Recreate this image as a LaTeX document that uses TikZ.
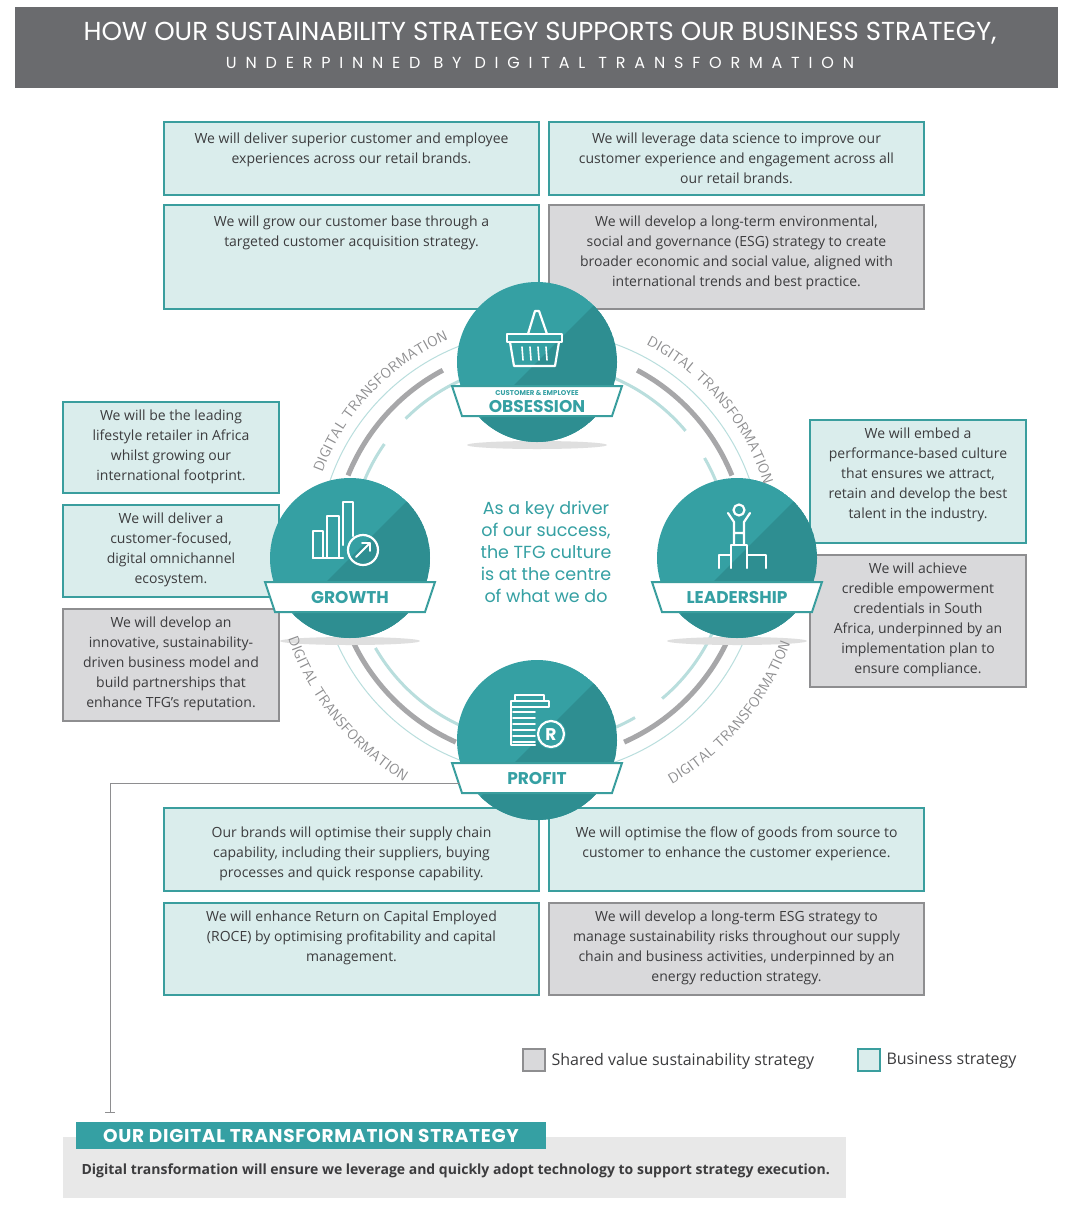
\documentclass[tikz,border=0pt]{standalone}
\usepackage{fontspec}
\setmainfont{Open Sans}
\newfontfamily\pop{Poppins}
\usetikzlibrary{decorations.text}
\definecolor{tealc}{HTML}{35A0A3}
\definecolor{teald}{HTML}{2E8E91}
\definecolor{tbox}{HTML}{DAEDEC}
\definecolor{tline}{HTML}{3A9E9E}
\definecolor{gbox}{HTML}{D9D9DB}
\definecolor{gline}{HTML}{8E8E90}
\definecolor{hdr}{HTML}{6A6B6E}
\definecolor{arcg}{HTML}{A7A7A9}
\definecolor{arct}{HTML}{B9DEDD}
\definecolor{txt}{HTML}{3C3C3E}
\tikzset{
 tb/.style={draw=tline,fill=tbox,line width=2.5pt},
 gb/.style={draw=gline,fill=gbox,line width=2.5pt},
 btxt/.style={anchor=north,align=center,font=\fontsize{14}{20}\selectfont,text=txt,inner sep=0pt},
 icon/.style={draw=white,line width=2.2pt,line cap=round,line join=round},
 banner/.style={draw=tline,fill=white,line width=2pt},
 ban/.style={text=tealc,font=\pop\bfseries\fontsize{17}{17}\selectfont},
 garc/.style={draw=arcg,line width=5pt},
 tarc/.style={draw=arct,line width=3pt},
}
\newcommand{\bx}[7]{\draw[#5] (#1,#2) rectangle (#3,#4);
 \node[btxt] at ({(#1+#3)/2},{#2+#7}) {#6};}
\newcommand{\hub}[2]{%
 \begin{scope}
 \clip (#1,#2) circle (80);
 \fill[tealc] (#1,#2) circle (80);
 \fill[teald] ({#1+100},{#2-100}) -- ({#1-100},{#2+100}) -- ({#1+100},{#2+100}) -- cycle;
 \end{scope}}
\newcommand{\dt}[3]{%
 \path[decorate,decoration={text along path,text align=center,
  text={|\sffamily\fontsize{14.5}{12}\selectfont\color{gline}|DIGITAL TRANSFORMATION}}]
  (#2:#1) arc[start angle=#2,end angle=#3,radius=#1];}
\begin{document}
\begin{tikzpicture}[x=1pt,y=-1pt]
\useasboundingbox (0,0) rectangle (1072,1232);
\fill[white] (0,0) rectangle (1072,1232);
% header
\fill[hdr] (15,7) rectangle (1058,88);
\node[text=white,font=\pop\fontsize{26}{26}\selectfont] (t1) at (540,33) {HOW OUR SUSTAINABILITY STRATEGY SUPPORTS OUR BUSINESS STRATEGY,};
\node[text=white,font=\pop\fontsize{16}{16}\selectfont\addfontfeatures{LetterSpace=55}] (t2) at (540,63) {UNDERPINNED BY DIGITAL TRANSFORMATION};
% boxes
\bx{164}{122}{539}{195}{tb}{We will deliver superior customer and employee\\experiences across our retail brands.}{11}
\bx{549}{122}{924}{195}{tb}{We will leverage data science to improve our\\customer experience and engagement across all\\our retail brands.}{11}
\bx{164}{205}{539}{309}{tb}{We will grow our customer base through a\\targeted customer acquisition strategy.}{11}
\bx{549}{205}{924}{309}{gb}{We will develop a long-term environmental,\\social and governance (ESG) strategy to create\\broader economic and social value, aligned with\\international trends and best practice.}{11}
\bx{63}{402}{279}{493}{tb}{We will be the leading\\lifestyle retailer in Africa\\whilst growing our\\international footprint.}{8}
\bx{63}{505}{279}{597}{tb}{We will deliver a\\customer-focused,\\digital omnichannel\\ecosystem.}{8}
\bx{63}{609}{279}{721}{gb}{We will develop an\\innovative, sustainability-\\driven business model and\\build partnerships that\\enhance TFG’s reputation.}{8}
\bx{810}{420}{1026}{543}{tb}{We will embed a\\performance-based culture\\that ensures we attract,\\retain and develop the best\\talent in the industry.}{8}
\bx{810}{555}{1026}{687}{gb}{We will achieve\\credible empowerment\\credentials in South\\Africa, underpinned by an\\implementation plan to\\ensure compliance.}{8}
\bx{164}{808}{539}{891}{tb}{Our brands will optimise their supply chain\\capability, including their suppliers, buying\\processes and quick response capability.}{19}
\bx{549}{808}{924}{891}{tb}{We will optimise the flow of goods from source to\\customer to enhance the customer experience.}{19}
\bx{164}{903}{539}{995}{tb}{We will enhance Return on Capital Employed\\(ROCE) by optimising profitability and capital\\management.}{8}
\bx{549}{903}{924}{995}{gb}{We will develop a long-term ESG strategy to\\manage sustainability risks throughout our supply\\chain and business activities, underpinned by an\\energy reduction strategy.}{8}
% ring
\draw[arct,line width=1pt] (540,553) circle (222);
\begin{scope}[y=1pt,shift={(540,-553)}]
\foreach \a/\b in {118/158,22/62,202/246,294/338}{
 \draw[garc] (\a:207) arc[start angle=\a,end angle=\b,radius=207];}
\foreach \a/\b in {100/135,145/175,40/85,15/30,185/200,210/255,280/300,310/345}{
 \draw[tarc] (\a:190) arc[start angle=\a,end angle=\b,radius=190];}
\end{scope}
% shadows
\foreach \x/\y in {537/445,350/641,737/641}{\fill[gray!25] (\x,\y) ellipse (70 and 4);}
% hubs
\hub{537}{362}\hub{350}{558}\hub{737}{558}\hub{537}{740}
\node (obs) at (537,362) {};\node (gro) at (350,558) {};\node (lea) at (737,558) {};\node (pro) at (537,740) {};
\begin{scope}[y=1pt,shift={(540,-553)}]
\dt{232}{168}{105}
\dt{234}{74}{6}
\dt{266}{188}{250}
\dt{266}{289}{351}
\end{scope}
% banners
\draw[banner] (452,386) -- (622,386) -- (612,416) -- (462,416) -- cycle;
\node[text=tealc,font=\pop\bfseries\fontsize{7}{7}\selectfont] at (537,393) {CUSTOMER \& EMPLOYEE};
\node[ban] at (537,406) {OBSESSION};
\draw[banner] (265,582) -- (435,582) -- (425,612) -- (275,612) -- cycle;
\node[ban] at (350,597) {GROWTH};
\draw[banner] (652,582) -- (822,582) -- (812,612) -- (662,612) -- cycle;
\node[ban] at (737,597) {LEADERSHIP};
\draw[banner] (452,763) -- (622,763) -- (612,793) -- (462,793) -- cycle;
\node[ban] at (537,778) {PROFIT};
% icons
\draw[icon] (528,334) -- (535,311) -- (539,311) -- (547,334);
\draw[icon] (507,334) rectangle (562,342);
\draw[icon] (510,342) -- (514,366) -- (555,366) -- (559,342);
\foreach \x in {522,530,538,546}{\draw[icon,line width=1.6pt] (\x,347) -- (\x+1,360);}
\draw[icon] (313,558) -- (313,531) -- (323,531) -- (323,558) -- (327,558) -- (327,516) -- (339,516) -- (339,558);
\draw[icon] (343,545) -- (343,502) -- (353,502) -- (353,536);
\draw[icon] (313,558) -- (343,558);
\draw[icon] (363,550) circle (15);
\draw[icon,line width=1.8pt] (356,557) -- (370,543) (362,543) -- (370,543) -- (370,551);
\draw[icon] (739,510) circle (5.5);
\draw[icon] (728,513) -- (734,522) -- (734,545) (750,513) -- (744,522) -- (744,545) (734,533) -- (744,533);
\draw[icon] (719,568) -- (719,555) -- (731,555) -- (731,545) -- (747,545) -- (747,555) -- (766,555) -- (766,568) (731,555) -- (731,568) (747,555) -- (747,568);
\draw[icon,line width=1.6pt] (515,695) rectangle (544,701);
\draw[icon,line width=1.6pt] (511,701) rectangle (549,707);
\foreach \y in {712,718,724,730,736,742}{\draw[icon,line width=1.6pt] (513,\y) -- (535,\y);}
\draw[icon] (511,707) -- (511,745) -- (535,745);
\fill[tealc] (551,734) circle (15);
\draw[icon] (551,734) circle (13);
\node[text=white,font=\pop\bfseries\fontsize{17}{17}\selectfont] at (551,735) {R};
% centre text
\node[align=center,text=tealc,font=\pop\fontsize{17.5}{22}\selectfont] (ctr) at (546,552) {As a key driver\\of our success,\\the TFG culture\\is at the centre\\of what we do};
% connector
\coordinate (c1) at (460,783);\coordinate (c2) at (110,783);\coordinate (c3) at (110,1112);
\draw[gline,line width=1pt] (c1) -- (c2) -- (c3);
\draw[gline,line width=1pt] (105,1112) -- (115,1112);
% legend
\draw[gb,line width=2pt] (523,1049) rectangle (545,1071);
\node[anchor=west,font=\fontsize{16}{16}\selectfont,text=txt] at (548,1061) {Shared value sustainability strategy};
\draw[tb,line width=2pt] (858,1049) rectangle (880,1071);
\node[anchor=west,font=\fontsize{16}{16}\selectfont,text=txt] at (883,1061) {Business strategy};
% bottom
\fill[gray!18] (63,1137) rectangle (846,1198);
\fill[tealc] (76,1122) rectangle (546,1149);
\node[text=white,font=\pop\bfseries\fontsize{18.5}{18}\selectfont\addfontfeatures{LetterSpace=4}] (dts) at (311,1136) {OUR DIGITAL TRANSFORMATION STRATEGY};
\node[anchor=west,text=txt,font=\bfseries\fontsize{14}{14}\selectfont] at (78,1171) {Digital transformation will ensure we leverage and quickly adopt technology to support strategy execution.};
\end{tikzpicture}
\end{document}
